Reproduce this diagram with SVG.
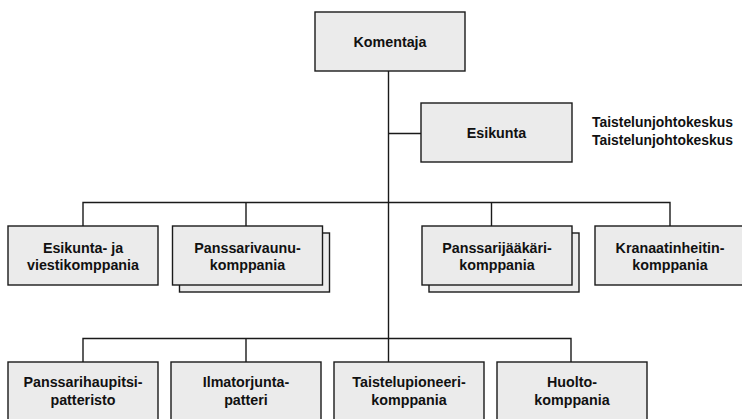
<svg xmlns="http://www.w3.org/2000/svg" width="742" height="419" viewBox="0 0 742 419">
<style>
.box{fill:#ebebeb;stroke:#1a1a1a;stroke-width:1.4}
.ln{fill:none;stroke:#1a1a1a;stroke-width:1.4}
text{font-family:"Liberation Sans",Arial,sans-serif;font-weight:bold;fill:#111}
.t{font-size:14.3px;text-anchor:middle}
.s{font-size:13.9px}
</style>
<rect width="742" height="419" fill="#ffffff"/>
<g id="connectors">
<path class="ln" d="M388.5 71 V362"/>
<path class="ln" d="M388.5 133.5 H421"/>
<path class="ln" d="M83 226 V202.5 H670 V226 M246 202.5 V226 M491.5 202.5 V226"/>
<path class="ln" d="M83 362 V338.5 H571 V362 M246 338.5 V362"/>
</g>
<g id="komentaja">
<rect class="box" x="315" y="12" width="150" height="59"/>
<text class="t" x="390" y="46.5">Komentaja</text>
</g>
<g id="esikunta">
<rect class="box" x="421" y="103" width="151" height="59"/>
<text class="t" x="496.5" y="138">Esikunta</text>
</g>
<g id="taistelunjohtokeskus">
<text class="s" x="592" y="127.3">Taistelunjohtokeskus</text>
<text class="s" x="592" y="145">Taistelunjohtokeskus</text>
</g>
<g id="esikunta-ja-viestikomppania">
<rect class="box" x="8" y="226" width="150" height="59"/>
<text class="t" x="83" y="252.5">Esikunta- ja</text>
<text class="t" x="83" y="270">viestikomppania</text>
</g>
<g id="panssarivaunukomppania">
<rect class="box" x="179.5" y="233" width="150" height="59"/>
<rect class="box" x="172.5" y="226" width="150" height="59"/>
<text class="t" x="247.5" y="252.5">Panssarivaunu-</text>
<text class="t" x="247.5" y="270">komppania</text>
</g>
<g id="panssarijaakarikomppania">
<rect class="box" x="429" y="233" width="150" height="59"/>
<rect class="box" x="422" y="226" width="150" height="59"/>
<text class="t" x="497" y="252.5">Panssarijääkäri-</text>
<text class="t" x="497" y="270">komppania</text>
</g>
<g id="kranaatinheitinkomppania">
<rect class="box" x="595" y="226" width="150" height="59"/>
<text class="t" x="670" y="252.5">Kranaatinheitin-</text>
<text class="t" x="670" y="270">komppania</text>
</g>
<g id="panssarihaupitsipatteristo">
<rect class="box" x="8" y="362" width="150" height="60"/>
<text class="t" x="83" y="387">Panssarihaupitsi-</text>
<text class="t" x="83" y="404.5">patteristo</text>
</g>
<g id="ilmatorjuntapatteri">
<rect class="box" x="171" y="362" width="150" height="60"/>
<text class="t" x="246" y="387">Ilmatorjunta-</text>
<text class="t" x="246" y="404.5">patteri</text>
</g>
<g id="taistelupioneerikomppania">
<rect class="box" x="334" y="362" width="150" height="60"/>
<text class="t" x="409" y="387">Taistelupioneeri-</text>
<text class="t" x="409" y="404.5">komppania</text>
</g>
<g id="huoltokomppania">
<rect class="box" x="497" y="362" width="150" height="60"/>
<text class="t" x="572" y="387">Huolto-</text>
<text class="t" x="572" y="404.5">komppania</text>
</g>
</svg>
